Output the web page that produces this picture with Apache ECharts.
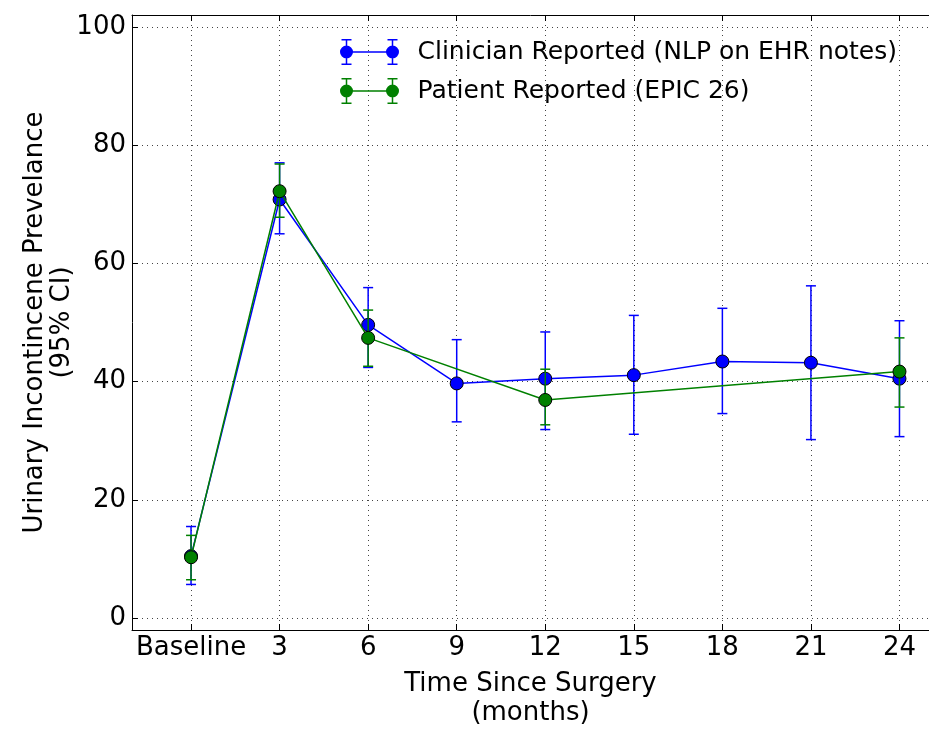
<!DOCTYPE html>
<html>
<head>
<meta charset="utf-8">
<script src="https://cdn.jsdelivr.net/npm/echarts@6/dist/echarts.min.js"></script>
<style>
  body { margin: 0; background: #fff; }
  #chart { width: 929px; height: 733px; }
</style>
</head>
<body>
<div id="chart"></div>
<script>
// months since surgery (0 = baseline)
const months = [0, 3, 6, 9, 12, 15, 18, 21, 24];
const monthLabels = ['Baseline', '3', '6', '9', '12', '15', '18', '21', '24'];
const yTicks = [0, 20, 40, 60, 80, 100];

// Clinician reported (NLP on EHR notes)
const clinician = [10.5, 70.8, 49.6, 39.7, 40.5, 41.1, 43.4, 43.2, 40.5];
const clinicianLow = [5.7, 65.0, 42.4, 33.2, 31.9, 31.1, 34.6, 30.2, 30.7];
const clinicianHigh = [15.5, 77.0, 55.9, 47.1, 48.4, 51.2, 52.4, 56.2, 50.3];

// Patient reported (EPIC 26)
const patientMonths = [0, 3, 6, 12, 24];
const patient = [10.3, 72.2, 47.4, 36.9, 41.7];
const patientLow = [6.5, 67.8, 42.6, 32.7, 35.7];
const patientHigh = [14.0, 76.8, 52.1, 42.1, 47.4];

const BLUE = '#0000ff';
const GREEN = '#008000';
const FONT = 'DejaVu Sans';

// legend glyph: line with a marker + error bar at each end (all sub-paths clockwise)
const legendIcon = 'path://' +
  'M0.5 13A6.5 6.5 0 1 1 13.5 13A6.5 6.5 0 1 1 0.5 13Z' +
  'M46.5 13A6.5 6.5 0 1 1 59.5 13A6.5 6.5 0 1 1 46.5 13Z' +
  'M7 12.25L53 12.25L53 13.75L7 13.75Z' +
  'M6.25 0L7.75 0L7.75 26L6.25 26Z M2 0L12 0L12 1.5L2 1.5Z M2 24.5L12 24.5L12 26L2 26Z' +
  'M52.25 0L53.75 0L53.75 26L52.25 26Z M48 0L58 0L58 1.5L48 1.5Z M48 24.5L58 24.5L58 26L48 26Z';

function errorBars(color) {
  return function (params, api) {
    const x = api.value(0);
    const top = api.coord([x, api.value(2)]);
    const bot = api.coord([x, api.value(1)]);
    const w = 5;
    const style = { stroke: color, lineWidth: 1.5 };
    return {
      type: 'group',
      children: [
        { type: 'line', shape: { x1: top[0], y1: top[1], x2: bot[0], y2: bot[1] }, style: style },
        { type: 'line', shape: { x1: top[0] - w, y1: top[1], x2: top[0] + w, y2: top[1] }, style: style },
        { type: 'line', shape: { x1: bot[0] - w, y1: bot[1], x2: bot[0] + w, y2: bot[1] }, style: style }
      ]
    };
  };
}

const chart = echarts.init(document.getElementById('chart'));

const axisText = { color: '#000', fontFamily: FONT, fontSize: 26 };
const frameLine = { show: true, onZero: false, lineStyle: { color: '#000', width: 1 } };
const gridDots = { show: true, lineStyle: { color: '#444', width: 1, type: [1, 4] } };

const option = {
  animation: false,
  textStyle: { fontFamily: FONT },
  grid: { left: 132, top: 15, width: 802, height: 622, containLabel: false },
  legend: {
    orient: 'vertical',
    left: 335,
    top: 34,
    itemWidth: 60,
    itemHeight: 26,
    itemGap: 13,
    icon: legendIcon,
    itemStyle: { borderWidth: 0 },
    textStyle: { color: '#000', fontFamily: FONT, fontSize: 25, lineHeight: 26, padding: [0, 0, 0, 13] },
    data: ['Clinician Reported (NLP on EHR notes)', 'Patient Reported (EPIC 26)']
  },
  xAxis: [
    {
      type: 'value',
      min: -2,
      max: 25,
      name: 'Time Since Surgery\n(months)',
      nameLocation: 'middle',
      nameMoveOverlap: false,
      nameGap: 40,
      nameTextStyle: { color: '#000', fontFamily: FONT, fontSize: 26, lineHeight: 29 },
      axisLine: frameLine,
      axisTick: { show: true, inside: true, length: 6, customValues: months, lineStyle: { color: '#000' } },
      axisLabel: Object.assign({
        margin: 5,
        customValues: months,
        formatter: function (v) { return monthLabels[months.indexOf(v)]; }
      }, axisText),
      splitLine: gridDots
    },
    {
      type: 'value',
      position: 'top',
      min: -2,
      max: 25,
      axisLine: frameLine,
      axisTick: { show: true, inside: true, length: 6, customValues: months, lineStyle: { color: '#000' } },
      axisLabel: { show: false },
      splitLine: { show: false }
    }
  ],
  yAxis: {
    type: 'value',
    min: -2,
    max: 102,
    name: 'Urinary Incontincene Prevelance\n(95% CI)',
    nameLocation: 'middle',
    nameMoveOverlap: false,
    nameGap: 56,
    nameTextStyle: { color: '#000', fontFamily: FONT, fontSize: 26, lineHeight: 27 },
    axisLine: frameLine,
    axisTick: { show: true, inside: true, length: 6, customValues: yTicks, lineStyle: { color: '#000' } },
    axisLabel: Object.assign({ margin: 6, customValues: yTicks }, axisText),
    splitLine: gridDots
  },
  series: [
    {
      name: 'ci-clinician',
      type: 'custom',
      renderItem: errorBars(BLUE),
      encode: { x: 0, y: [1, 2] },
      z: 2,
      data: months.map((m, i) => [m, clinicianLow[i], clinicianHigh[i]])
    },
    {
      name: 'Clinician Reported (NLP on EHR notes)',
      type: 'line',
      z: 3,
      symbol: 'circle',
      symbolSize: 13,
      color: BLUE,
      lineStyle: { color: BLUE, width: 1.5 },
      itemStyle: { color: BLUE, borderColor: '#000', borderWidth: 1 },
      data: months.map((m, i) => [m, clinician[i]])
    },
    {
      name: 'ci-patient',
      type: 'custom',
      renderItem: errorBars(GREEN),
      encode: { x: 0, y: [1, 2] },
      z: 4,
      data: patientMonths.map((m, i) => [m, patientLow[i], patientHigh[i]])
    },
    {
      name: 'Patient Reported (EPIC 26)',
      type: 'line',
      z: 5,
      symbol: 'circle',
      symbolSize: 13,
      color: GREEN,
      lineStyle: { color: GREEN, width: 1.5 },
      itemStyle: { color: GREEN, borderColor: '#000', borderWidth: 1 },
      data: patientMonths.map((m, i) => [m, patient[i]])
    }
  ]
};

chart.setOption(option);
</script>
</body>
</html>
